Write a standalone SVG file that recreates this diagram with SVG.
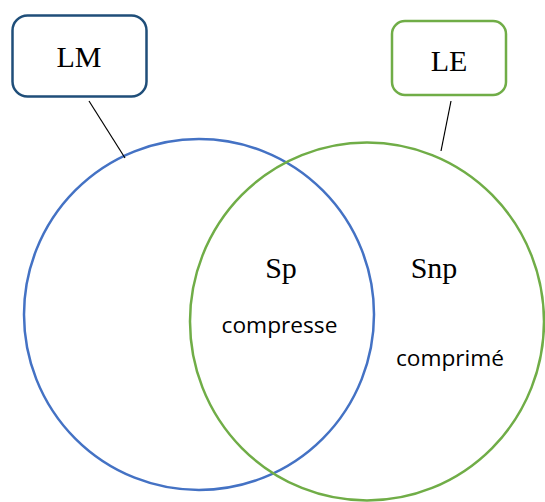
<svg xmlns="http://www.w3.org/2000/svg" width="545" height="502" viewBox="0 0 545 502">
<style>
.serif{font-family:"Liberation Serif","DejaVu Serif",serif;fill:#000;text-anchor:middle}
.sans{font-family:"Open Sans","Liberation Sans",sans-serif;fill:#000;text-anchor:middle}
.box{fill:#fff;stroke-width:2.5}
.conn{stroke:#000;stroke-width:1.2;fill:none}
</style>
<rect width="545" height="502" fill="#fff"/>
<g id="circles">
<ellipse id="circle-LM" cx="199" cy="314.5" rx="175" ry="175.5" fill="none" stroke="#4472C4" stroke-width="2.5"/>
<ellipse id="circle-LE" cx="367" cy="321.5" rx="177" ry="179" fill="none" stroke="#70AD47" stroke-width="2.5"/>
</g>
<g id="connectors">
<line class="conn" x1="89" y1="101" x2="125" y2="158"/>
<line class="conn" x1="451" y1="101" x2="441" y2="151"/>
</g>
<g id="LM">
<rect class="box" x="12.5" y="15.5" width="134" height="81" rx="15" stroke="#1F4E79"/>
<text class="serif" x="79" y="67" font-size="30">LM</text>
</g>
<g id="LE">
<rect class="box" x="392" y="21" width="114" height="74" rx="13" stroke="#70AD47"/>
<text class="serif" x="449" y="71" font-size="30">LE</text>
</g>
<g id="Sp">
<text class="serif" x="281" y="278" font-size="30">Sp</text>
<text class="sans" x="279.5" y="333" font-size="22.7">compresse</text>
</g>
<g id="Snp">
<text class="serif" x="434" y="278" font-size="30">Snp</text>
<text class="sans" x="450" y="366" font-size="22.7">comprimé</text>
</g>
</svg>
